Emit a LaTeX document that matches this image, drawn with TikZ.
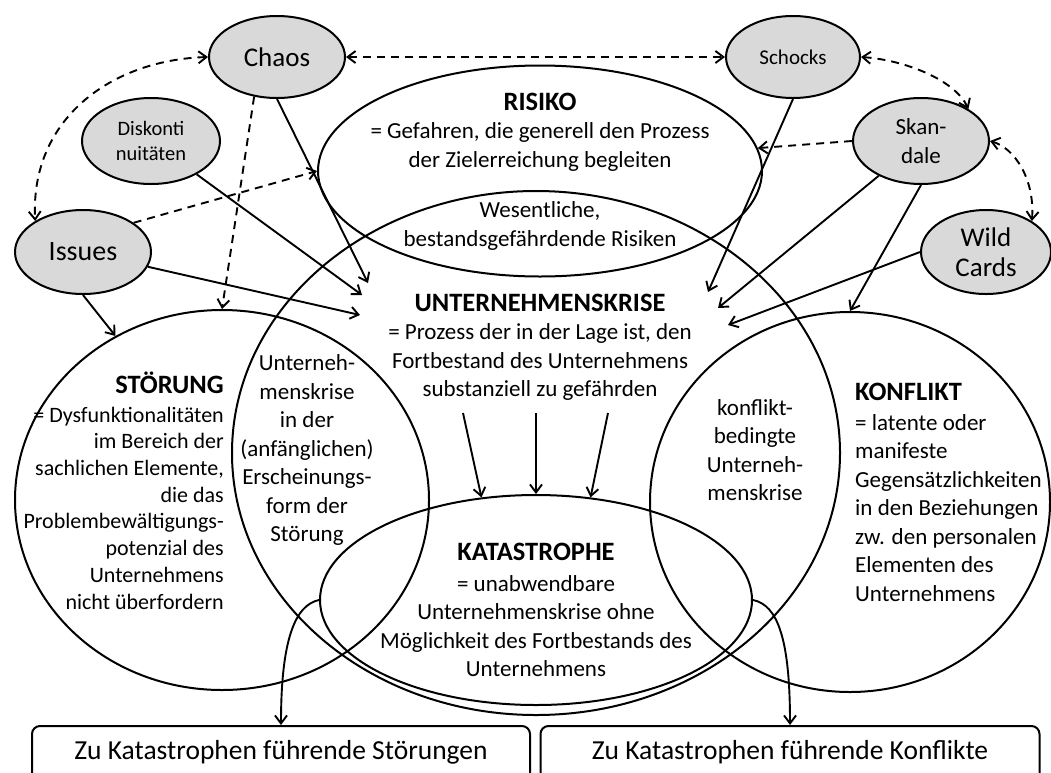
\documentclass[tikz,border=0pt]{standalone}
\usepackage{fontspec}
\setmainfont{Carlito}
\usepackage{tikz}
\usetikzlibrary{arrows.meta,shapes.geometric,positioning}
\definecolor{blobgray}{RGB}{217,217,217}
\tikzset{
  blob/.style={ellipse, draw, fill=blobgray, line width=2pt, inner sep=0pt, align=center},
  ring/.style={ellipse, draw, line width=2pt, inner sep=0pt},
  arr/.style={-{Straight Barb[length=8pt,width=12pt]}, line width=1.9pt},
  darr/.style={arr, dash pattern=on 8pt off 6pt},
  ddarr/.style={{Straight Barb[length=8pt,width=12pt]}-{Straight Barb[length=8pt,width=12pt]}, line width=1.9pt, dash pattern=on 8pt off 6pt},
  body/.style={font=\fontsize{23}{28.5}\selectfont, inner sep=0pt, align=center},
  head/.style={font=\fontsize{26.5}{30}\selectfont\bfseries, inner sep=0pt},
  endbox/.style={draw, rectangle, rounded corners=8pt, line width=2pt, anchor=north, inner sep=0pt,
    text height=33pt, text depth=30pt, font=\fontsize{27.5}{30}\selectfont}
}

\begin{document}
\begin{tikzpicture}[x=1pt,y=-1pt]
  \useasboundingbox (0,0) rectangle (1051,772);
  % Big rings
  \node[ring, minimum width=444pt, minimum height=211pt] (risiko) at (540,171) {};
  \node[ring, minimum width=608pt, minimum height=524pt] (krise) at (536,453) {};
  \node[ring, minimum width=414pt, minimum height=380pt] (stoer) at (222,500) {};
  \node[ring, minimum width=400pt, minimum height=380pt] (konflikt) at (850,502) {};
  \node[ring, minimum width=432pt, minimum height=210pt] (kat) at (536,600) {};
  % Texts in the rings
  \node[head] (risikohead) at (540,102) {RISIKO};
  \node[body] (risikotxt) at (540,147) {= Gefahren, die generell den Prozess\\der Zielerreichung begleiten};
  \node[body] (wesen) at (540,226) {Wesentliche,\\bestandsgefährdende Risiken};
  \node[head] (krisehead) at (540,303) {UNTERNEHMENSKRISE};
  \node[body] (krisetxt) at (540,362) {= Prozess der in der Lage ist, den\\Fortbestand des Unternehmens\\substanziell zu gefährden};
  \node[head, anchor=east] (stoerhead) at (224,383) {STÖRUNG};
  \node[body, align=right, anchor=east, font=\fontsize{22}{26.7}\selectfont] (stoertxt) at (224,508)
    {= Dysfunktionalitäten\\im Bereich der\\sachlichen Elemente,\\die das\\Problembewältigungs-\\potenzial des\\Unternehmens\\nicht überfordern};
  \node[body] (anfang) at (307,450) {Unterneh-\\menskrise\\in der\\(anfänglichen)\\Erscheinungs-\\form der\\Störung};
  \node[body] (bedingt) at (755,450) {konflikt-\\bedingte\\Unterneh-\\menskrise};
  \node[head, anchor=west] (konflikthead) at (855,392) {KONFLIKT};
  \node[body, align=left, anchor=west] (konflikttxt) at (855,508)
    {= latente oder\\manifeste\\Gegensätzlichkeiten\\in den Beziehungen\\zw. den personalen\\Elementen des\\Unternehmens};
  \node[head] (kathead) at (536,552) {KATASTROPHE};
  \node[body] (kattxt) at (536,626) {= unabwendbare\\Unternehmenskrise ohne\\Möglichkeit des Fortbestands des\\Unternehmens};
  % Outer influences
  \node[blob, minimum width=136pt, minimum height=82pt, font=\fontsize{27}{31}\selectfont] (chaos) at (277,57) {Chaos};
  \node[blob, minimum width=134pt, minimum height=82pt, font=\fontsize{21}{25}\selectfont] (schocks) at (793,57) {Schocks};
  \node[blob, minimum width=138pt, minimum height=86pt, font=\fontsize{20.5}{25}\selectfont] (disk) at (151,141) {Diskonti\\nuitäten};
  \node[blob, minimum width=136pt, minimum height=86pt, font=\fontsize{23}{29}\selectfont] (skandale) at (921,141) {Skan-\\dale};
  \node[blob, minimum width=136pt, minimum height=84pt, font=\fontsize{28}{32}\selectfont] (issues) at (83,252) {Issues};
  \node[blob, minimum width=130pt, minimum height=84pt, font=\fontsize{27}{30}\selectfont] (wild) at (986,252) {Wild\\Cards};
  % Bottom boxes
  \node[endbox, minimum width=498pt] (lbox) at (281,725) {Zu Katastrophen führende Störungen};
  \node[endbox, minimum width=499pt] (rbox) at (790,725) {Zu Katastrophen führende Konflikte};
  % Free arrow ends
  \coordinate (c1) at (368,283);
  \coordinate (c2) at (362,295);
  \coordinate (c3) at (360,315);
  \coordinate (c4) at (708,292);
  \coordinate (c5) at (718,308);
  \coordinate (c6) at (728,325);
  \coordinate (k1) at (463,413);
  \coordinate (k2) at (536,413);
  \coordinate (k3) at (608,413);
  % Solid arrows
  \draw[arr] (chaos.south) -- (c1);
  \draw[arr] (disk) -- (c2);
  \draw[arr] (issues) -- (c3);
  \draw[arr] (issues.south) -- (stoer.123);
  \draw[arr] (schocks.south) -- (c4);
  \draw[arr] (skandale) -- (c5);
  \draw[arr] (skandale.south) -- (konflikt.north);
  \draw[arr] (wild.west) -- (c6);
  \draw[arr] (k1) -- (kat.118);
  \draw[arr] (k2) -- (kat.north);
  \draw[arr] (k3) -- (kat.62);
  \draw[arr] (kat.west) .. controls (295,605) and (281,640) .. (lbox.north);
  \draw[arr] (kat.east) .. controls (778,605) and (790,640) .. (rbox.north);
  % Dashed arrows
  \draw[ddarr] (chaos.east) -- (schocks.west);
  \draw[ddarr] (chaos.west) .. controls (110,60) and (30,120) .. (issues.147);
  \draw[ddarr] (schocks.east) .. controls (905,60) and (955,80) .. (skandale.34);
  \draw[ddarr] (skandale.east) .. controls (1015,148) and (1035,180) .. (wild.34);
  \draw[darr] (chaos.-120) -- (stoer.north);
  \draw[darr] (issues.30) -- (risiko.west);
  \draw[darr] (skandale.west) -- (risiko.6);
\end{tikzpicture}
\end{document}
